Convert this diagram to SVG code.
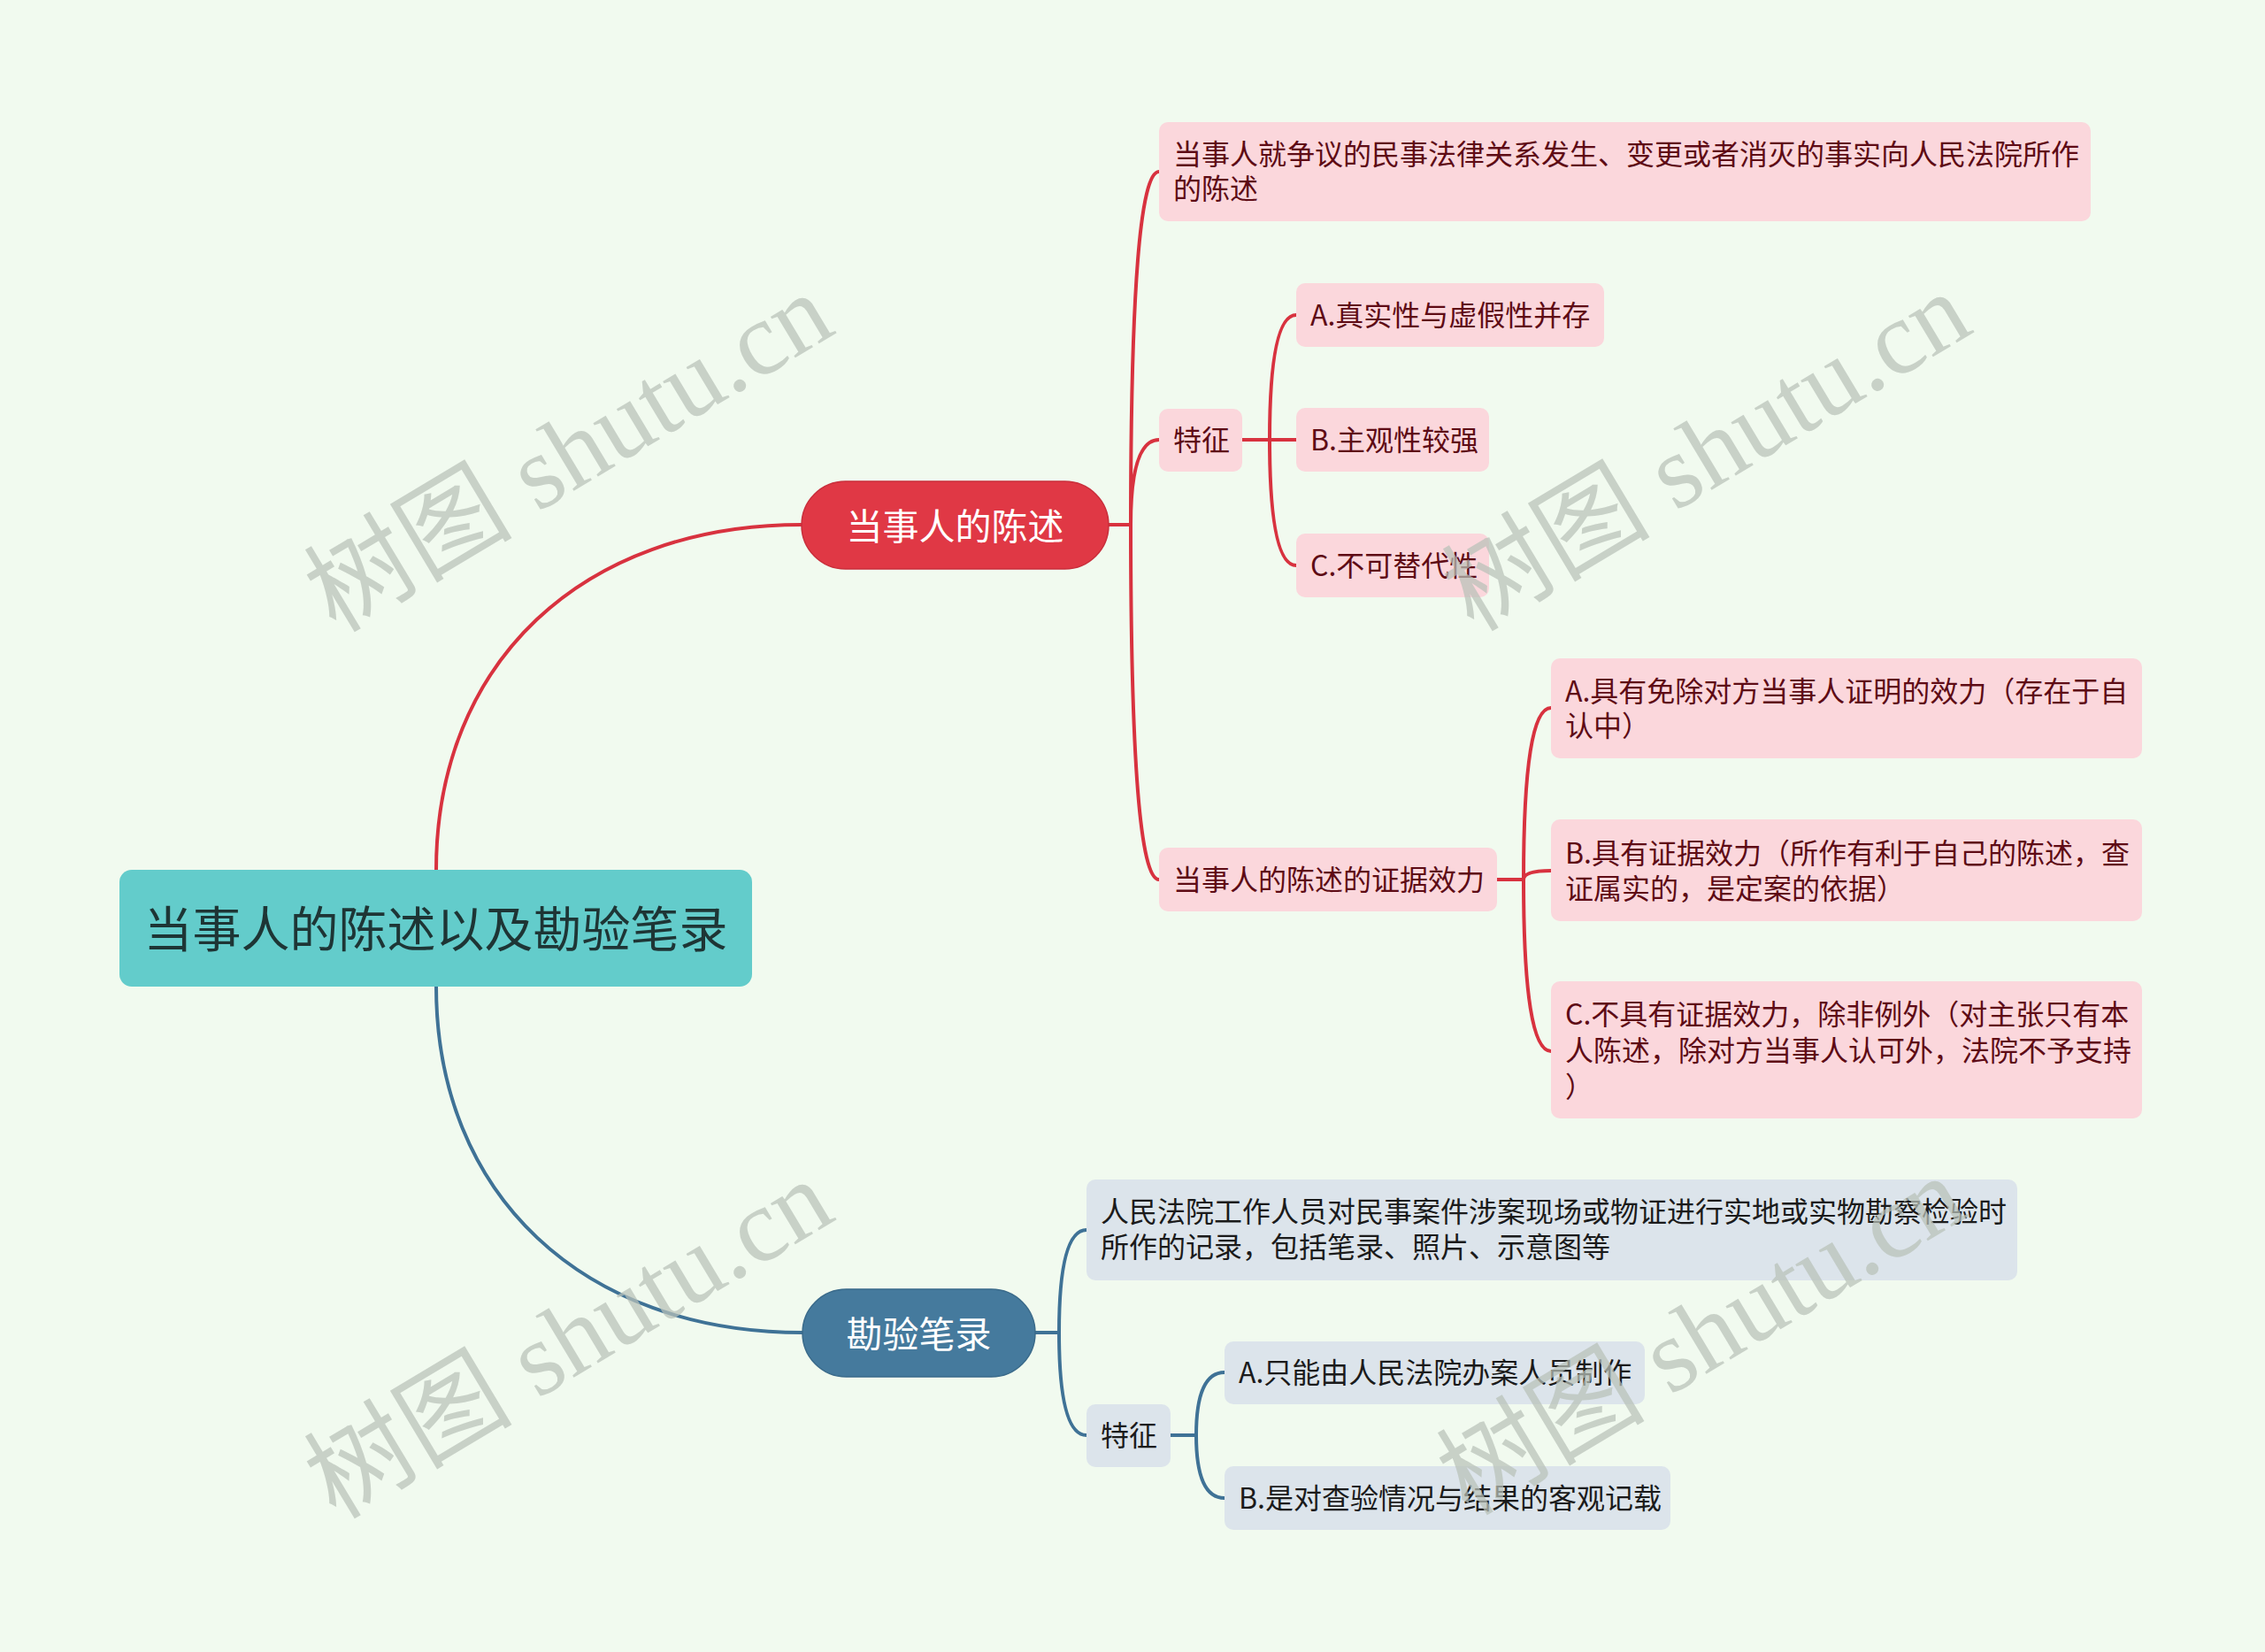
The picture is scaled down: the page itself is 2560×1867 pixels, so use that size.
<svg xmlns="http://www.w3.org/2000/svg" width="2560" height="1867" viewBox="0 0 2560 1867">
<style>
.t{font-family:"Noto Sans CJK SC","Noto Sans",sans-serif;}
.red{fill:#FBD7DC;}
.blu{fill:#DCE4EB;}
.rt{font-size:32px;fill:#5E0B15;dominant-baseline:central;}
.bt{font-size:32px;fill:#1B1B1B;dominant-baseline:central;}
.rc{fill:none;stroke:#D8323F;stroke-width:4;stroke-linecap:round;}
.bc{fill:none;stroke:#3F7296;stroke-width:4;stroke-linecap:round;}
.wm{font-family:"Liberation Serif","Noto Sans CJK SC",serif;font-size:118px;fill:#B9C2B9;opacity:0.72;text-anchor:middle;dominant-baseline:central;}
</style>
<rect x="0" y="0" width="2560" height="1867" fill="#F1FAEF"/>
<g id="connectors">
<path class="rc" d="M493,983 C493,749 658,593 906,593"/>
<path class="bc" d="M493,1115 C493,1350 659,1506 907,1506"/>
<path class="rc" d="M1253,593 H1278 M1278,593 Q1278,194 1310,194 M1278,593 Q1278,497 1310,497 M1278,593 Q1278,994 1310,994"/>
<path class="rc" d="M1404,497 H1465 M1435,497 Q1435,356 1465,356 M1435,497 Q1435,639 1465,639"/>
<path class="rc" d="M1692,994 H1722 M1722,994 Q1722,800 1753,800 M1722,994 Q1722,984 1753,984 M1722,994 Q1722,1188 1753,1188"/>
<path class="bc" d="M1170,1506 H1197 M1197,1506 Q1197,1390 1228,1390 M1197,1506 Q1197,1622 1228,1622"/>
<path class="bc" d="M1323,1622 H1352 M1352,1622 Q1352,1551 1384,1551 M1352,1622 Q1352,1693 1384,1693"/>
</g>
<g id="root">
<rect x="135" y="983" width="715" height="132" rx="14" fill="#63CCCB"/>
<text class="t" x="492.5" y="1046" font-size="55" fill="#1E3535" text-anchor="middle" dominant-baseline="central">当事人的陈述以及勘验笔录</text>
</g>
<g id="n-statement">
<rect x="906" y="544" width="347" height="99" rx="49.5" fill="#E03845" stroke="#C92E3B" stroke-width="1.5"/>
<text class="t" x="1079.5" y="591.5" font-size="41" fill="#FFFFFF" text-anchor="middle" dominant-baseline="central">当事人的陈述</text>
</g>
<g id="n-record">
<rect x="907" y="1457" width="263" height="99" rx="49.5" fill="#457A9D" stroke="#3A6A8A" stroke-width="1.5"/>
<text class="t" x="1038.5" y="1504.5" font-size="41" fill="#FFFFFF" text-anchor="middle" dominant-baseline="central">勘验笔录</text>
</g>
<g id="n-def">
<rect class="red" x="1310" y="138" width="1053" height="112" rx="10"/>
<text class="t rt" x="1326" y="172">当事人就争议的民事法律关系发生、变更或者消灭的事实向人民法院所作</text>
<text class="t rt" x="1326" y="211">的陈述</text>
</g>
<g id="n-feature1">
<rect class="red" x="1310" y="462" width="94" height="71" rx="10"/>
<text class="t rt" x="1326" y="495">特征</text>
</g>
<g id="n-f1a">
<rect class="red" x="1465" y="320" width="348" height="72" rx="10"/>
<text class="t rt" x="1481" y="353.5">A.真实性与虚假性并存</text>
</g>
<g id="n-f1b">
<rect class="red" x="1465" y="461" width="218" height="72" rx="10"/>
<text class="t rt" x="1481" y="494.5">B.主观性较强</text>
</g>
<g id="n-f1c">
<rect class="red" x="1465" y="603" width="218" height="72" rx="10"/>
<text class="t rt" x="1481" y="636.5">C.不可替代性</text>
</g>
<g id="n-evidence">
<rect class="red" x="1310" y="958" width="382" height="72" rx="10"/>
<text class="t rt" x="1326" y="991.5">当事人的陈述的证据效力</text>
</g>
<g id="n-ea">
<rect class="red" x="1753" y="744" width="668" height="113" rx="10"/>
<text class="t rt" x="1769" y="779">A.具有免除对方当事人证明的效力（存在于自</text>
<text class="t rt" x="1769" y="818">认中）</text>
</g>
<g id="n-eb">
<rect class="red" x="1753" y="926" width="668" height="115" rx="10"/>
<text class="t rt" x="1769" y="962">B.具有证据效力（所作有利于自己的陈述，查</text>
<text class="t rt" x="1769" y="1002">证属实的，是定案的依据）</text>
</g>
<g id="n-ec">
<rect class="red" x="1753" y="1109" width="668" height="155" rx="10"/>
<text class="t rt" x="1769" y="1144">C.不具有证据效力，除非例外（对主张只有本</text>
<text class="t rt" x="1769" y="1185">人陈述，除对方当事人认可外，法院不予支持</text>
<text class="t rt" x="1769" y="1226">）</text>
</g>
<g id="n-rdef">
<rect class="blu" x="1228" y="1333" width="1052" height="114" rx="10"/>
<text class="t bt" x="1244" y="1367">人民法院工作人员对民事案件涉案现场或物证进行实地或实物勘察检验时</text>
<text class="t bt" x="1244" y="1407">所作的记录，包括笔录、照片、示意图等</text>
</g>
<g id="n-feature2">
<rect class="blu" x="1228" y="1587" width="95" height="71" rx="10"/>
<text class="t bt" x="1244" y="1620">特征</text>
</g>
<g id="n-f2a">
<rect class="blu" x="1384" y="1516" width="475" height="71" rx="10"/>
<text class="t bt" x="1400" y="1549">A.只能由人民法院办案人员制作</text>
</g>
<g id="n-f2b">
<rect class="blu" x="1384" y="1657" width="504" height="72" rx="10"/>
<text class="t bt" x="1400" y="1690.5">B.是对查验情况与结果的客观记载</text>
</g>
<g id="watermarks">
<text class="wm" transform="translate(643,512) rotate(-31)">树图 shutu.cn</text>
<text class="wm" transform="translate(1929,511) rotate(-31)">树图 shutu.cn</text>
<text class="wm" transform="translate(643,1514) rotate(-31)">树图 shutu.cn</text>
<text class="wm" transform="translate(1923,1510) rotate(-31)">树图 shutu.cn</text>
</g>
</svg>
